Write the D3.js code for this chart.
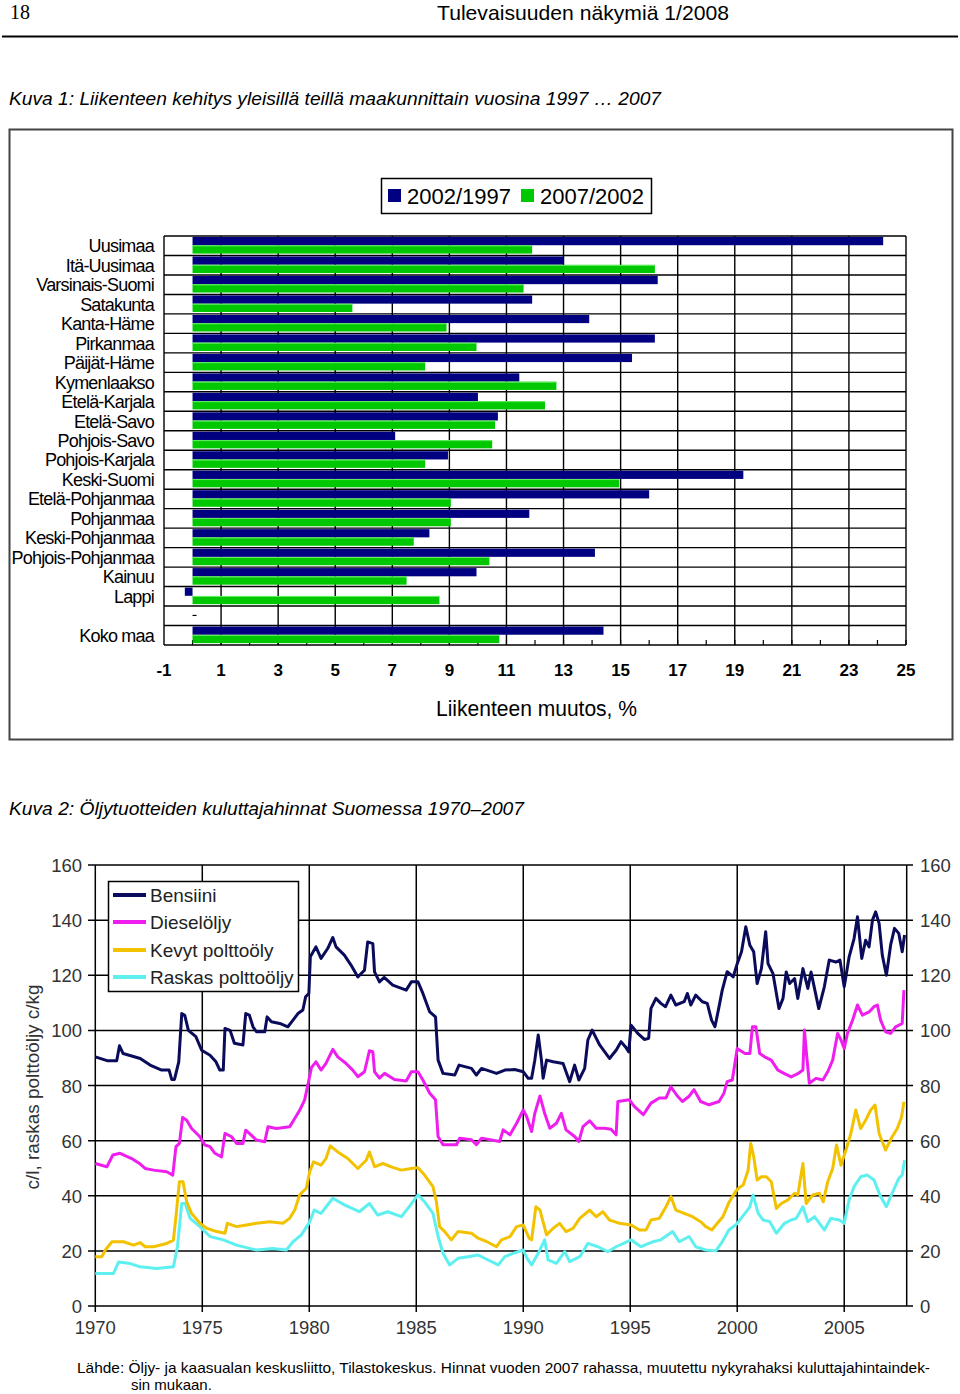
<!DOCTYPE html>
<html><head><meta charset="utf-8">
<script src="https://cdn.jsdelivr.net/npm/d3@7"></script>
<style>body{margin:0;background:#fff}svg{display:block;font-family:"Liberation Sans",Arial,sans-serif}</style>
</head><body><svg id="c" width="960" height="1394"></svg>
<script>
// ---------- Kuva 1 data ----------
const regions = ["Uusimaa","Itä-Uusimaa","Varsinais-Suomi","Satakunta","Kanta-Häme","Pirkanmaa","Päijät-Häme","Kymenlaakso","Etelä-Karjala","Etelä-Savo","Pohjois-Savo","Pohjois-Karjala","Keski-Suomi","Etelä-Pohjanmaa","Pohjanmaa","Keski-Pohjanmaa","Pohjois-Pohjanmaa","Kainuu","Lappi","","Koko maa"];
const change2002_1997 = [24.2,13.0,16.3,11.9,13.9,16.2,15.4,11.45,10.0,10.7,7.1,8.95,19.3,16.0,11.8,8.3,14.1,9.95,-0.27,0,14.4];
const change2007_2002 = [11.9,16.2,11.6,5.6,8.9,9.95,8.15,12.75,12.35,10.6,10.5,8.15,14.95,9.05,9.05,7.75,10.4,7.5,8.65,0,10.75];
const barSeries = ["2002/1997","2007/2002"];
const barTicks = [-1,1,3,5,7,9,11,13,15,17,19,21,23,25];

// ---------- Kuva 2 data (year, c/l) ----------
const bensiini = [[1970.0,90.4],[1970.55,89],[1971.0,89],[1971.13,94.4],[1971.3,91.6],[1972.1,89.8],[1972.56,87.4],[1973.1,85.6],[1973.45,85.6],[1973.57,82.2],[1973.7,82.2],[1973.9,88.6],[1974.04,106.1],[1974.18,105.5],[1974.35,100],[1974.7,97.7],[1974.97,92.8],[1975.36,91],[1975.64,88.6],[1975.82,85.6],[1975.98,85.6],[1976.06,100.7],[1976.3,100],[1976.5,95.3],[1976.9,94.7],[1977.03,106.1],[1977.2,105.5],[1977.37,101.3],[1977.53,99.5],[1977.92,99.5],[1978.03,104.9],[1978.23,103.1],[1978.62,102.5],[1979.0,101.3],[1979.24,103.7],[1979.47,106.1],[1979.7,107.4],[1979.83,112.2],[1979.98,113.4],[1980.05,126.7],[1980.31,130.3],[1980.55,126.1],[1980.86,129.7],[1981.1,133.7],[1981.25,130.3],[1981.64,127.3],[1981.95,123.7],[1982.27,119.4],[1982.58,121.8],[1982.73,132.1],[1982.97,131.5],[1983.05,121.2],[1983.28,117.6],[1983.5,119.2],[1983.9,116.4],[1984.53,114.6],[1984.77,117.6],[1985.08,117.6],[1985.31,113.4],[1985.63,106.7],[1985.9,104.9],[1986.02,89.2],[1986.25,84.4],[1986.8,83.8],[1987.0,87.4],[1987.58,86.2],[1987.81,83.8],[1988.05,86.2],[1988.75,84.4],[1989.14,85.6],[1989.6,85.8],[1990.0,85],[1990.23,82.6],[1990.39,82.6],[1990.54,89.2],[1990.7,98.3],[1990.85,89.2],[1990.93,82.6],[1991.09,89.2],[1991.4,88.6],[1991.86,88],[1992.17,81.4],[1992.4,87.4],[1992.6,82],[1992.87,86.2],[1993.02,96.5],[1993.22,100.1],[1993.57,94.7],[1994.03,89.8],[1994.34,92.8],[1994.57,95.9],[1994.78,94],[1994.93,92.2],[1995.04,101.9],[1995.35,98.9],[1995.66,96.7],[1995.86,97.1],[1995.97,108],[1996.2,111.6],[1996.43,109.8],[1996.65,108.6],[1996.9,112.8],[1997.13,109.2],[1997.52,110.4],[1997.67,113.4],[1997.83,109.2],[1998.06,112.8],[1998.37,110.4],[1998.6,109.8],[1998.8,103.7],[1998.96,101.3],[1999.15,108.6],[1999.3,114.6],[1999.53,121.3],[1999.81,119.4],[2000.0,124.2],[2000.2,128.5],[2000.4,137.6],[2000.59,130.9],[2000.77,128.5],[2000.93,117],[2001.13,122.4],[2001.33,135.8],[2001.44,124.2],[2001.67,120.6],[2001.95,107.9],[2002.14,111.6],[2002.29,121.2],[2002.45,117],[2002.68,118.8],[2002.83,111.6],[2003.07,122.4],[2003.3,115.2],[2003.45,121.2],[2003.81,107.9],[2004.07,115.8],[2004.3,125.5],[2004.61,124.8],[2004.8,125.5],[2005.0,115.8],[2005.23,126.7],[2005.46,133.3],[2005.62,141.2],[2005.82,126.1],[2006.0,132.7],[2006.16,130.3],[2006.32,140],[2006.47,143],[2006.63,138.8],[2006.78,127.3],[2006.97,120],[2007.17,131],[2007.35,137],[2007.55,135.2],[2007.71,128.5],[2007.82,134.6]];
const dieseloljy = [[1970.0,51.7],[1970.54,50.5],[1970.82,54.8],[1971.16,55.4],[1971.7,53.5],[1972.1,51.5],[1972.33,49.9],[1972.72,49.3],[1973.34,48.7],[1973.62,47.5],[1973.77,57.8],[1973.93,59],[1974.08,68.4],[1974.27,67.4],[1974.5,64.4],[1974.89,61.4],[1975.12,58.4],[1975.36,57.8],[1975.59,55.4],[1975.9,54.1],[1976.06,62.6],[1976.37,61.4],[1976.6,59],[1976.9,59],[1977.03,63.8],[1977.2,62.6],[1977.53,60.2],[1977.92,59.6],[1978.07,65],[1978.46,64.4],[1979.08,65],[1979.32,68],[1979.55,71],[1979.78,74.7],[1979.98,81.9],[1980.1,86.5],[1980.31,88.6],[1980.55,85.6],[1980.78,88],[1981.1,93.1],[1981.33,90.4],[1981.72,88],[1982.03,85.6],[1982.27,83.2],[1982.58,85],[1982.81,92.6],[1982.97,92.3],[1983.05,85],[1983.28,82.7],[1983.52,84.4],[1983.98,82.2],[1984.53,81.6],[1984.77,85],[1985.08,85],[1985.31,82],[1985.63,77.2],[1985.9,74.8],[1986.02,61.5],[1986.25,58.5],[1986.88,58.5],[1987.03,60.9],[1987.58,60.3],[1987.81,58.5],[1988.05,60.9],[1988.9,59.7],[1989.06,63.9],[1989.38,62.1],[1989.69,66.3],[1990.0,71.1],[1990.16,68.7],[1990.39,63.3],[1990.54,69.9],[1990.78,76.2],[1991.0,69.9],[1991.24,64.5],[1991.55,66.3],[1991.78,69.9],[1992.0,63.9],[1992.4,61.5],[1992.6,59.7],[1992.79,65.1],[1993.1,67.2],[1993.41,64.5],[1993.8,64.5],[1994.1,64.1],[1994.34,62.1],[1994.42,74.2],[1994.96,74.8],[1995.19,72.4],[1995.61,69.4],[1995.97,73.6],[1996.36,75.5],[1996.67,75.5],[1996.9,79.5],[1997.21,76.1],[1997.44,74.2],[1997.75,76.1],[1997.98,78.5],[1998.29,74.2],[1998.68,73],[1999.15,74.2],[1999.38,77.2],[1999.53,81.4],[1999.77,82],[2000.0,93.4],[2000.12,92.8],[2000.36,91.6],[2000.59,91.6],[2000.71,101.3],[2000.87,101.3],[2001.05,91.6],[2001.28,90.4],[2001.59,89.2],[2001.9,85.6],[2002.21,84.3],[2002.52,83.1],[2002.83,84.3],[2003.07,85.6],[2003.14,100.1],[2003.25,90.4],[2003.37,80.8],[2003.68,82.6],[2004.0,82],[2004.23,85],[2004.46,89.2],[2004.69,98.9],[2004.85,96.5],[2005.0,93.4],[2005.15,98.9],[2005.39,103.7],[2005.62,109.2],[2005.85,105.5],[2006.16,106.7],[2006.39,108.6],[2006.55,109.2],[2006.7,103.7],[2006.93,99.5],[2007.17,98.9],[2007.4,101.3],[2007.71,102.5],[2007.79,114.6]];
const kevytPolttooljy = [[1970.0,17.9],[1970.31,17.9],[1970.47,20.3],[1970.78,23.3],[1971.32,23.3],[1971.79,22.1],[1972.1,23],[1972.33,21.5],[1972.72,21.5],[1973.34,22.7],[1973.65,23.9],[1973.77,32.4],[1973.93,45.1],[1974.1,45.1],[1974.27,37.8],[1974.5,33.6],[1974.89,30],[1975.2,28.2],[1975.67,27],[1976.06,26.4],[1976.17,30],[1976.6,28.8],[1977.07,29.4],[1977.53,30],[1978.15,30.6],[1978.77,30],[1979.08,31.8],[1979.32,34.8],[1979.55,40.3],[1979.86,42.7],[1980.02,48.7],[1980.2,52.3],[1980.55,51.1],[1980.78,53.5],[1980.98,58.1],[1981.33,55.9],[1981.8,53.5],[1982.27,49.9],[1982.66,52.9],[1982.81,55.9],[1983.05,50.5],[1983.44,51.7],[1983.83,50.5],[1984.3,49.3],[1984.77,49.9],[1985.08,50.2],[1985.39,47.5],[1985.78,43.3],[1985.94,37.9],[1986.09,28.8],[1986.33,27],[1986.64,24],[1986.95,27],[1987.58,26.4],[1987.89,24.6],[1988.28,23.4],[1988.75,21.5],[1988.98,24],[1989.38,25.2],[1989.69,28.8],[1990.0,29.4],[1990.27,24.6],[1990.39,24],[1990.59,36],[1990.78,34.8],[1991.09,25.8],[1991.4,28.2],[1991.7,30],[1992.0,27],[1992.33,28.2],[1992.64,31.8],[1993.1,34.8],[1993.41,32.4],[1993.72,34.2],[1994.03,31.2],[1994.5,30],[1995.04,29.4],[1995.43,27.6],[1995.74,27.6],[1995.97,31.2],[1996.36,31.8],[1996.67,36],[1996.9,39.7],[1997.13,34.8],[1997.52,33.6],[1997.91,32.4],[1998.29,30.6],[1998.53,28.8],[1998.81,27.6],[1999.07,30],[1999.33,32.4],[1999.61,37.5],[1999.92,41.5],[2000.1,43],[2000.28,43.9],[2000.51,49.3],[2000.63,59],[2000.77,54.2],[2000.93,45.7],[2001.13,46.9],[2001.36,46.9],[2001.59,45.1],[2001.83,35.4],[2002.06,37.2],[2002.37,38.5],[2002.68,40.9],[2002.83,40.3],[2003.07,51.7],[2003.22,37.2],[2003.53,40.3],[2003.84,40.9],[2004.02,37.8],[2004.23,45.1],[2004.46,49.9],[2004.64,58.4],[2004.85,51.1],[2005.08,56.6],[2005.31,62.6],[2005.54,71.1],[2005.77,64.4],[2006.0,67.4],[2006.24,71.1],[2006.44,72.9],[2006.63,62.6],[2006.93,56.6],[2007.24,61.4],[2007.48,64.4],[2007.68,68.6],[2007.79,74.1]];
const raskasPolttooljy = [[1970.0,11.8],[1970.85,11.8],[1971.09,16],[1971.63,15.4],[1972.1,14.2],[1972.87,13.6],[1973.65,14.2],[1973.84,21.5],[1974.04,37.2],[1974.2,37.2],[1974.43,31.8],[1974.89,28.8],[1975.36,25.2],[1975.98,24],[1976.6,22.1],[1977.53,20.3],[1978.3,20.9],[1978.93,20.3],[1979.24,23.3],[1979.63,25.8],[1980.02,30.5],[1980.23,34.8],[1980.55,33.6],[1981.1,39.1],[1981.64,36.7],[1982.34,34.2],[1982.81,37.2],[1983.2,33],[1983.67,34.2],[1984.3,32.4],[1984.61,35.4],[1985.08,40.3],[1985.39,37.8],[1985.78,33.6],[1986.02,25.2],[1986.25,19.1],[1986.56,14.9],[1986.95,17.3],[1987.42,17.9],[1987.89,18.5],[1988.36,16.7],[1988.83,14.9],[1989.14,17.9],[1989.53,19.1],[1990.0,20.3],[1990.2,17],[1990.39,14.9],[1990.7,19.1],[1991.0,24],[1991.16,16.7],[1991.55,15.5],[1991.94,19.7],[1992.17,16.1],[1992.64,17.9],[1993.02,22.7],[1993.49,21.5],[1993.95,19.7],[1994.34,21.5],[1995.04,24],[1995.5,21.5],[1996.05,23.3],[1996.43,24],[1996.98,27],[1997.29,23.3],[1997.75,25.2],[1998.06,21.5],[1998.53,20.3],[1999.0,20],[1999.3,23.3],[1999.61,27.6],[1999.92,29.4],[2000.0,30],[2000.36,33.6],[2000.59,36],[2000.74,40.3],[2000.98,33.6],[2001.21,31.2],[2001.52,30.6],[2001.83,26.4],[2002.21,30],[2002.52,31.2],[2002.76,31.8],[2003.07,36],[2003.3,30.6],[2003.61,32.4],[2004.07,27.6],[2004.38,31.8],[2004.77,31.2],[2005.0,30],[2005.23,38.5],[2005.46,43.3],[2005.77,46.9],[2006.08,47.5],[2006.39,45.7],[2006.7,39.7],[2006.97,36],[2007.24,40.9],[2007.55,46.3],[2007.71,47.5],[2007.82,52.9]];
const lineNames = ["Bensiini","Dieselöljy","Kevyt polttoöly","Raskas polttoöljy"];
const lineColors = ["#0b0b5c","#ee1eee","#f2c200","#5ef0f0"];
const priceTicks = [0,20,40,60,80,100,120,140,160];
const yearTicks = [1970,1975,1980,1985,1990,1995,2000,2005];

// ---------- drawing ----------
const svg = d3.select("#c");
svg.append("rect").attr("width",960).attr("height",1394).attr("fill","#fff");

// page header
svg.append("text").attr("x",10).attr("y",19).attr("font-family","'Liberation Serif',serif").attr("font-size",20).text("18");
svg.append("text").attr("x",437).attr("y",20).attr("font-size",21).attr("textLength",292).attr("lengthAdjust","spacingAndGlyphs").text("Tulevaisuuden näkymiä 1/2008");
svg.append("line").attr("x1",2).attr("x2",958).attr("y1",36.5).attr("y2",36.5).attr("stroke","#000").attr("stroke-width",2);

svg.append("text").attr("x",9).attr("y",105).attr("font-size",19).attr("font-style","italic").attr("textLength",652).attr("lengthAdjust","spacingAndGlyphs")
  .text("Kuva 1: Liikenteen kehitys yleisillä teillä maakunnittain vuosina 1997 … 2007");

// ----- bar chart -----
svg.append("rect").attr("x",9.5).attr("y",129.5).attr("width",943).attr("height",610).attr("fill","#fff").attr("stroke","#444").attr("stroke-width",2);

const keys = regions.map((r,i)=>i);
const xb = d3.scaleLinear().domain([-1,25]).range([164,906]);
const yb = d3.scaleBand().domain(keys).range([236,645]).paddingInner(0);
const ys = d3.scaleBand().domain(barSeries).range([1,17.6]).paddingInner(0.02);
const barColors = ["#000080","#00c800"];

const gb = svg.append("g");
gb.selectAll(".vg").data(barTicks.filter(t=>t>-1)).join("line")
  .attr("x1",d=>xb(d)).attr("x2",d=>xb(d)).attr("y1",236).attr("y2",645).attr("stroke","#000").attr("stroke-width",1.4);
gb.selectAll(".hg").data(d3.range(regions.length+1)).join("line")
  .attr("x1",164).attr("x2",906)
  .attr("y1",d=>236+d*yb.step()).attr("y2",d=>236+d*yb.step()).attr("stroke","#000").attr("stroke-width",1.4);
gb.append("line").attr("x1",164).attr("x2",164).attr("y1",236).attr("y2",645).attr("stroke","#000").attr("stroke-width",1.4);
gb.selectAll(".mt").data(d3.range(0,26)).join("line")
  .attr("x1",d=>xb(d)).attr("x2",d=>xb(d)).attr("y1",640).attr("y2",645).attr("stroke","#000").attr("stroke-width",1.2);

const barData = [];
regions.forEach((r,i)=>{
  if(r==="") return;
  barData.push({k:i,s:barSeries[0],v:change2002_1997[i],c:barColors[0]});
  barData.push({k:i,s:barSeries[1],v:change2007_2002[i],c:barColors[1]});
});
gb.selectAll(".bar").data(barData).join("rect")
  .attr("x",d=>xb(Math.min(0,d.v))).attr("width",d=>Math.abs(xb(d.v)-xb(0)))
  .attr("y",d=>yb(d.k)+ys(d.s)).attr("height",ys.bandwidth())
  .attr("fill",d=>d.c);
gb.selectAll(".hl").data(barData.filter(d=>d.s===barSeries[1])).join("line")
  .attr("x1",d=>xb(0)).attr("x2",d=>xb(d.v))
  .attr("y1",d=>yb(d.k)+ys(d.s)+0.5).attr("y2",d=>yb(d.k)+ys(d.s)+0.5)
  .attr("stroke","#66ee66").attr("stroke-width",1);
const blankKey = regions.indexOf("");
gb.append("line").attr("x1",xb(0)).attr("x2",xb(0)+4).attr("y1",yb(blankKey)+ys(barSeries[1])).attr("y2",yb(blankKey)+ys(barSeries[1])).attr("stroke","#000").attr("stroke-width",1.2);

gb.selectAll(".cl").data(regions.map((r,i)=>({r,i}))).join("text")
  .attr("x",154).attr("y",d=>yb(d.i)+yb.bandwidth()/2+6.5)
  .attr("text-anchor","end").attr("font-size",18).attr("letter-spacing",-0.8)
  .text(d=>d.r);
gb.selectAll(".tl").data(barTicks).join("text")
  .attr("x",d=>xb(d)).attr("y",676).attr("text-anchor","middle").attr("font-size",17).attr("font-weight","bold")
  .text(d=>d);
gb.append("text").attr("x",436).attr("y",716).attr("font-size",22).attr("textLength",201).attr("lengthAdjust","spacingAndGlyphs").text("Liikenteen muutos, %");

const lg = svg.append("g");
lg.append("rect").attr("x",381.5).attr("y",178.5).attr("width",270).attr("height",35).attr("fill","#fff").attr("stroke","#000").attr("stroke-width",1.5);
const legX = [388,521];
barSeries.forEach((s,i)=>{
  lg.append("rect").attr("x",legX[i]).attr("y",189).attr("width",13).attr("height",13).attr("fill",barColors[i]);
  lg.append("text").attr("x",legX[i]+19).attr("y",204).attr("font-size",22).text(s);
});

// ----- line chart -----
svg.append("text").attr("x",9).attr("y",815).attr("font-size",19).attr("font-style","italic").attr("textLength",515).attr("lengthAdjust","spacingAndGlyphs")
  .text("Kuva 2: Öljytuotteiden kuluttajahinnat Suomessa 1970–2007");

const xl = d3.scaleLinear().domain([1970,2007.92]).range([95.3,906.7]);
const yl = d3.scaleLinear().domain([0,160]).range([1306,865]);
const gl = svg.append("g");
gl.selectAll(".hg").data(priceTicks).join("line")
  .attr("x1",88).attr("x2",913).attr("y1",d=>yl(d)).attr("y2",d=>yl(d)).attr("stroke","#000").attr("stroke-width",1.5);
gl.selectAll(".vg").data(yearTicks).join("line")
  .attr("x1",d=>xl(d)).attr("x2",d=>xl(d)).attr("y1",yl(160)).attr("y2",1312).attr("stroke","#000").attr("stroke-width",1.5);
gl.append("line").attr("x1",xl(2007.92)).attr("x2",xl(2007.92)).attr("y1",yl(160)).attr("y2",yl(0)).attr("stroke","#000").attr("stroke-width",1.5);

gl.selectAll(".ll").data(priceTicks).join("text")
  .attr("x",82).attr("y",d=>yl(d)+7).attr("text-anchor","end").attr("font-size",18.5).attr("fill","#333").text(d=>d);
gl.selectAll(".rl").data(priceTicks).join("text")
  .attr("x",920).attr("y",d=>yl(d)+7).attr("text-anchor","start").attr("font-size",18.5).attr("fill","#333").text(d=>d);
gl.selectAll(".yl").data(yearTicks).join("text")
  .attr("x",d=>xl(d)).attr("y",1334).attr("text-anchor","middle").attr("font-size",18.5).attr("fill","#333").text(d=>d);
gl.append("text").attr("transform","translate(39,1087) rotate(-90)").attr("text-anchor","middle").attr("font-size",17.5).attr("fill","#333")
  .attr("textLength",205).attr("lengthAdjust","spacingAndGlyphs")
  .text("c/l, raskas polttoöljy c/kg");

const series = [bensiini,dieseloljy,kevytPolttooljy,raskasPolttooljy];
const line = d3.line().x(d=>xl(d[0])).y(d=>yl(d[1]));
[3,2,1,0].forEach(i=>{
  gl.append("path").datum(series[i]).attr("d",line).attr("fill","none").attr("stroke",lineColors[i]).attr("stroke-width",3).attr("stroke-linejoin","round");
});

const ll = svg.append("g");
ll.append("rect").attr("x",108.5).attr("y",881.5).attr("width",190).attr("height",110).attr("fill","#fff").attr("stroke","#000").attr("stroke-width",1.5);
const legY = [895,922,950,977];
lineNames.forEach((n,i)=>{
  ll.append("line").attr("x1",113).attr("x2",146).attr("y1",legY[i]).attr("y2",legY[i]).attr("stroke",lineColors[i]).attr("stroke-width",4);
  ll.append("text").attr("x",150).attr("y",legY[i]+7).attr("font-size",19).attr("fill","#222").text(n);
});

svg.append("text").attr("x",77).attr("y",1373).attr("font-size",15).attr("textLength",853).attr("lengthAdjust","spacingAndGlyphs")
  .text("Lähde: Öljy- ja kaasualan keskusliitto, Tilastokeskus. Hinnat vuoden 2007 rahassa, muutettu nykyrahaksi  kuluttajahintaindek-");
svg.append("text").attr("x",131).attr("y",1390).attr("font-size",15).text("sin mukaan.");
</script>
</body></html>
